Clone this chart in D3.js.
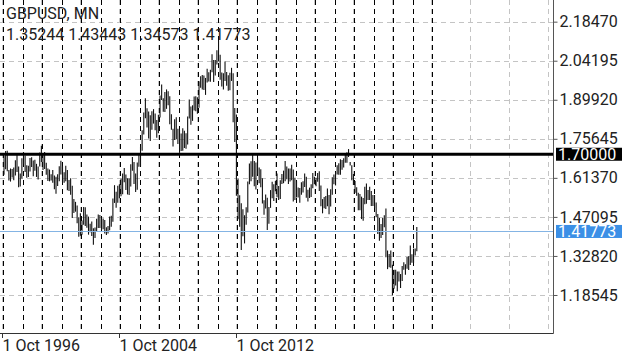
<!DOCTYPE html>
<html>
<head>
<meta charset="utf-8">
<script src="https://cdn.jsdelivr.net/npm/d3@7"></script>
<style>
  html, body { margin: 0; padding: 0; background: #fff; }
  svg { display: block; font-family: Roboto, sans-serif; }
</style>
</head>
<body>
<svg id="chart" width="625" height="356"></svg>
<script>
// header
const symbol = 'GBPUSD, MN';
const lastBar = ['1.35244', '1.43443', '1.34573', '1.41773']; // O H L C of the last month
const lastClose = 1.41773;
const levelLine = 1.70000;

// right price axis
const priceTicks = [2.18470, 2.04195, 1.89920, 1.75645, 1.61370, 1.47095, 1.32820, 1.18545];

// bottom labels (as printed by the terminal) and the bar they sit on
const dateLabels = ['1 Oct 1996', '1 Oct 2004', '1 Oct 2012'];
const dateLabelBars = [0, 72, 144];

// monthly highs / lows, Nov 1996 .. Jan 2018
const highs = [
  1.6940, 1.7120,
  1.7130, 1.6420, 1.6480, 1.6460, 1.6520, 1.6780, 1.7050, 1.6550, 1.6300, 1.6850, 1.7080, 1.6950,
  1.6600, 1.6580, 1.6860, 1.6890, 1.6770, 1.6800, 1.6650, 1.6550, 1.7060, 1.7310, 1.7050, 1.7080,
  1.6690, 1.6480, 1.6440, 1.6270, 1.6420, 1.6220, 1.6180, 1.6270, 1.6560, 1.6760, 1.6560, 1.6340,
  1.6580, 1.6420, 1.6060, 1.6120, 1.5850, 1.5360, 1.5260, 1.5130, 1.4700, 1.4840, 1.4580, 1.5070,
  1.5060, 1.4800, 1.4720, 1.4460, 1.4540, 1.4290, 1.4320, 1.4640, 1.4800, 1.4780, 1.4620, 1.4650,
  1.4600, 1.4330, 1.4380, 1.4720, 1.4750, 1.5380, 1.5870, 1.5630, 1.5850, 1.5900, 1.6100, 1.6300,
  1.6500, 1.6260, 1.6120, 1.6110, 1.6630, 1.6900, 1.6720, 1.6300, 1.6700, 1.7050, 1.7280, 1.7880,
  1.8530, 1.9050, 1.8680, 1.8560, 1.8430, 1.8570, 1.8650, 1.8490, 1.8250, 1.8440, 1.9150, 1.9550,
  1.9050, 1.9280, 1.9370, 1.9300, 1.9120, 1.8460, 1.7930, 1.8280, 1.8350, 1.7930, 1.7900, 1.7760,
  1.7950, 1.7860, 1.7770, 1.8380, 1.9000, 1.8750, 1.8790, 1.9110, 1.9120, 1.9080, 1.9670, 1.9850,
  1.9900, 1.9880, 1.9790, 2.0130, 2.0000, 2.0090, 2.0660, 2.0450, 2.0450, 2.0800, 2.1160, 2.0640,
  1.9990, 1.9960, 2.0390, 2.0010, 1.9890, 1.9980, 2.0160, 1.9960, 1.8690, 1.8450, 1.6100, 1.5500,
  1.5210, 1.4990, 1.4770, 1.5060, 1.6000, 1.6660, 1.6740, 1.7040, 1.6750, 1.6700, 1.6880, 1.6520,
  1.6450, 1.6120, 1.5320, 1.5530, 1.5410, 1.5070, 1.5690, 1.5990, 1.5900, 1.6020, 1.6300, 1.5840,
  1.6050, 1.6280, 1.6400, 1.6750, 1.6550, 1.6480, 1.6480, 1.6620, 1.6440, 1.6140, 1.6010, 1.5780,
  1.5770, 1.5980, 1.6010, 1.6300, 1.6180, 1.5700, 1.5780, 1.5900, 1.6310, 1.6180, 1.6140, 1.6310,
  1.6380, 1.5860, 1.5360, 1.5440, 1.5470, 1.5750, 1.5510, 1.5720, 1.6160, 1.6260, 1.6360, 1.6600,
  1.6670, 1.6820, 1.6790, 1.6850, 1.6990, 1.7070, 1.7190, 1.6720, 1.6600, 1.6280, 1.6020, 1.5790,
  1.5590, 1.5550, 1.5450, 1.5400, 1.5810, 1.5930, 1.5690, 1.5810, 1.5660, 1.5510, 1.5510, 1.5240,
  1.4820, 1.4670, 1.4450, 1.4670, 1.4770, 1.5020, 1.3480, 1.3350, 1.3480, 1.2960, 1.2780, 1.2780,
  1.2710, 1.2710, 1.2620, 1.2910, 1.3050, 1.2980, 1.3240, 1.3270, 1.3660, 1.3340, 1.3550, 1.3550,
  1.4344
];
const lows = [
  1.6250, 1.6450,
  1.6380, 1.6040, 1.6000, 1.6150, 1.6050, 1.6220, 1.6350, 1.5790, 1.5820, 1.6110, 1.6630, 1.6350,
  1.6140, 1.6170, 1.6370, 1.6530, 1.6200, 1.6400, 1.6170, 1.6080, 1.6550, 1.6720, 1.6420, 1.6460,
  1.6250, 1.6020, 1.6010, 1.6040, 1.5960, 1.5720, 1.5560, 1.5840, 1.6010, 1.6260, 1.5960, 1.5960,
  1.6010, 1.5680, 1.5660, 1.5520, 1.4670, 1.4850, 1.4900, 1.4480, 1.3980, 1.4020, 1.4060, 1.4420,
  1.4380, 1.4310, 1.4060, 1.4150, 1.4010, 1.3690, 1.3940, 1.4160, 1.4300, 1.4300, 1.4160, 1.4260,
  1.4100, 1.4050, 1.4100, 1.4220, 1.4350, 1.4530, 1.5220, 1.5040, 1.5230, 1.5390, 1.5460, 1.5540,
  1.5980, 1.5690, 1.5530, 1.5510, 1.5820, 1.6400, 1.5910, 1.5620, 1.5700, 1.6540, 1.6550, 1.7130,
  1.7720, 1.8320, 1.7980, 1.7580, 1.7480, 1.7900, 1.8120, 1.7880, 1.7600, 1.7770, 1.8340, 1.8980,
  1.8550, 1.8540, 1.8660, 1.8790, 1.8100, 1.7900, 1.7280, 1.7520, 1.7550, 1.7370, 1.7050, 1.7120,
  1.7130, 1.7230, 1.7200, 1.7360, 1.8310, 1.8080, 1.8220, 1.8600, 1.8570, 1.8480, 1.8700, 1.9430,
  1.9370, 1.9350, 1.9170, 1.9620, 1.9660, 1.9650, 2.0000, 1.9640, 1.9880, 2.0280, 2.0400, 1.9720,
  1.9480, 1.9370, 1.9680, 1.9500, 1.9320, 1.9340, 1.9680, 1.8170, 1.7450, 1.5480, 1.4620, 1.4350,
  1.3500, 1.4000, 1.3740, 1.4420, 1.4870, 1.5900, 1.6010, 1.6180, 1.5830, 1.5710, 1.6280, 1.5940,
  1.5790, 1.5200, 1.4790, 1.5020, 1.4230, 1.4460, 1.5040, 1.5390, 1.5290, 1.5650, 1.5430, 1.5330,
  1.5360, 1.5910, 1.5940, 1.6010, 1.6090, 1.5910, 1.6000, 1.6050, 1.5270, 1.5330, 1.5420, 1.5420,
  1.5230, 1.5520, 1.5600, 1.5800, 1.5410, 1.5270, 1.5400, 1.5440, 1.5760, 1.5910, 1.5830, 1.5990,
  1.5660, 1.5100, 1.4840, 1.5030, 1.5000, 1.5100, 1.4810, 1.5090, 1.5520, 1.5900, 1.5860, 1.6260,
  1.6250, 1.6250, 1.6430, 1.6520, 1.6690, 1.6690, 1.6900, 1.6590, 1.6050, 1.5880, 1.5590, 1.5480,
  1.4950, 1.4950, 1.4630, 1.4570, 1.5170, 1.5190, 1.5330, 1.5330, 1.5110, 1.5110, 1.5030, 1.4700,
  1.4080, 1.3840, 1.3940, 1.4050, 1.4330, 1.3230, 1.2800, 1.2870, 1.2850, 1.1840, 1.2080, 1.2200,
  1.1990, 1.2350, 1.2110, 1.2370, 1.2780, 1.2590, 1.2810, 1.2770, 1.2950, 1.3030, 1.3030, 1.3300,
  1.3457
];

const width = 625, height = 356;
const plotRight = 553, plotBottom = 333;

const svg = d3.select('#chart');

// price scale pinned so the printed ticks land where the terminal put them
const y = d3.scaleLinear().domain([1.0465, 2.2639]).range([plotBottom, 0]);
// bar index -> x, 1.625px per month
const x = d3.scaleLinear().domain([0, 254]).range([4, 416.8]);

const snap = v => Math.round(v) + 0.5;

// horizontal grid
svg.append('g')
  .selectAll('line')
  .data(priceTicks)
  .join('line')
  .attr('x1', 0).attr('x2', plotRight)
  .attr('y1', d => snap(y(d))).attr('y2', d => snap(y(d)))
  .attr('stroke', '#c4c4c4')
  .attr('stroke-dasharray', '5,4');

// vertical grid every 24 bars (runs into the empty future area)
const gridBars = d3.range(0, 337, 24);
svg.append('g')
  .selectAll('line')
  .data(gridBars)
  .join('line')
  .attr('x1', d => snap(x(d) - 2)).attr('x2', d => snap(x(d) - 2))
  .attr('y1', 0).attr('y2', plotBottom)
  .attr('stroke', '#c4c4c4')
  .attr('stroke-dasharray', '5,4');

// yearly period separators
const sepBars = d3.range(0, 265, 12);
svg.append('g')
  .selectAll('line')
  .data(sepBars)
  .join('line')
  .attr('x1', d => snap(x(d) - 0.7)).attr('x2', d => snap(x(d) - 0.7))
  .attr('y1', 0).attr('y2', plotBottom)
  .attr('stroke', '#000')
  .attr('stroke-dasharray', '5,4');

// OHLC bars (high-low strokes)
svg.append('g')
  .selectAll('line')
  .data(highs)
  .join('line')
  .attr('x1', (d, i) => x(i)).attr('x2', (d, i) => x(i))
  .attr('y1', d => y(d))
  .attr('y2', (d, i) => y(lows[i]))
  .attr('stroke', '#111')
  .attr('stroke-width', 1.1);

// 1.70 level
svg.append('line')
  .attr('x1', 0).attr('x2', plotRight)
  .attr('y1', y(levelLine)).attr('y2', y(levelLine))
  .attr('stroke', '#000')
  .attr('stroke-width', 3);

// last price line
svg.append('line')
  .attr('x1', 0).attr('x2', plotRight)
  .attr('y1', snap(y(lastClose))).attr('y2', snap(y(lastClose)))
  .attr('stroke', '#84b4e4')
  .attr('stroke-width', 1);

// right axis
const yAxis = d3.axisRight(y).tickValues(priceTicks).tickSize(4).tickPadding(2)
  .tickFormat(d3.format('.5f'));
const ya = svg.append('g')
  .attr('transform', `translate(${plotRight + 0.5},0)`)
  .call(yAxis);
ya.select('.domain').attr('stroke', '#555').attr('d', `M0,0V${plotBottom + 0.5}`);
ya.selectAll('.tick line').attr('stroke', '#555');
ya.selectAll('.tick text')
  .attr('font-family', 'Roboto, sans-serif')
  .attr('font-size', 16)
  .attr('fill', '#222');

// bottom axis line + label ticks
svg.append('line')
  .attr('x1', 0).attr('x2', plotRight + 0.5)
  .attr('y1', plotBottom + 0.5).attr('y2', plotBottom + 0.5)
  .attr('stroke', '#333');

const dl = svg.append('g')
  .selectAll('g')
  .data(dateLabels)
  .join('g')
  .attr('transform', (d, i) => `translate(${snap(x(dateLabelBars[i]) - 2)},0)`);
dl.append('line')
  .attr('y1', plotBottom).attr('y2', plotBottom + 5)
  .attr('stroke', '#333');
dl.append('text')
  .attr('y', 351)
  .attr('font-size', 16)
  .attr('fill', '#222')
  .text(d => d);

// price tags on the axis
function tag(value, bg, fg) {
  const g = svg.append('g').attr('transform', `translate(556,${y(value)})`);
  g.append('rect')
    .attr('x', 0).attr('y', -6.5)
    .attr('width', 66).attr('height', 13)
    .attr('fill', bg);
  g.append('text')
    .attr('x', 2).attr('dy', '0.36em')
    .attr('font-size', 16)
    .attr('fill', fg)
    .text(d3.format('.5f')(value));
}
tag(levelLine, '#000', '#fff');
tag(lastClose, '#3b8fe6', '#fff');

// header
svg.append('text')
  .attr('x', 6).attr('y', 19)
  .attr('font-size', 16)
  .attr('fill', '#222')
  .text(symbol);
svg.append('text')
  .attr('x', 6).attr('y', 40)
  .attr('font-size', 16)
  .attr('fill', '#222')
  .text(lastBar.join(' '));
</script>
</body>
</html>
